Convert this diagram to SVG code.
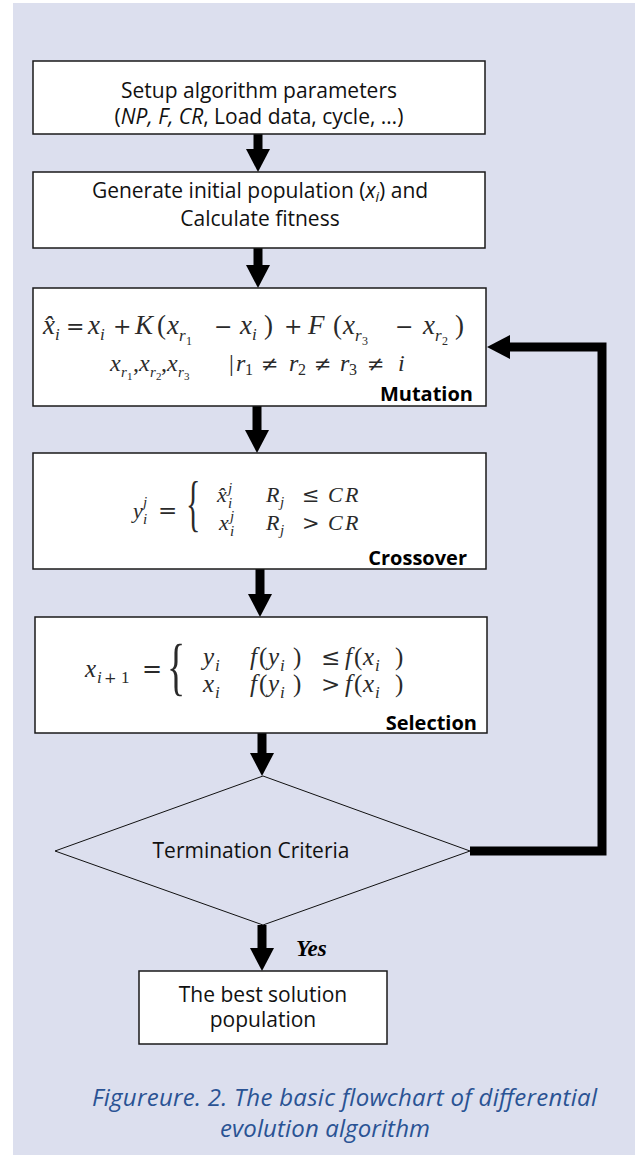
<svg xmlns="http://www.w3.org/2000/svg" width="635" height="1155" viewBox="0 0 635 1155">
<defs>
<style>
.box{fill:#fff;stroke:#1a1a1a;stroke-width:1.5}
.t{font-family:"Open Sans","Noto Sans",sans-serif;font-size:21px;fill:#111;text-anchor:middle}
.lbl{font-family:"Open Sans","Noto Sans",sans-serif;font-weight:bold;font-size:20px;fill:#000;text-anchor:end}
.m{font-family:"Liberation Serif",serif;font-style:italic;fill:#2a2a2a}
.n{font-family:"DejaVu Serif",serif;font-style:normal}
.r{font-style:normal}
.arr{fill:none;stroke:#000;stroke-width:9}
.cap{font-family:"Open Sans","Noto Sans",sans-serif;font-style:italic;font-size:24px;fill:#2A5394}
</style>
<marker id="ah" markerUnits="userSpaceOnUse" markerWidth="24" markerHeight="24" refX="0" refY="12" orient="auto" viewBox="0 0 24 24">
<path d="M0,0 L23,12 L0,24 z" fill="#000"/>
</marker>
</defs>
<rect x="0" y="0" width="635" height="1155" fill="#fff"/>
<rect x="13" y="3" width="622" height="1152" fill="#DCDFEE"/>

<g id="connectors">
<line class="arr" x1="258" y1="134" x2="258" y2="149" marker-end="url(#ah)"/>
<line class="arr" x1="258" y1="248" x2="258" y2="265" marker-end="url(#ah)"/>
<line class="arr" x1="257" y1="406" x2="257" y2="430" marker-end="url(#ah)"/>
<line class="arr" x1="260" y1="569" x2="260" y2="594" marker-end="url(#ah)"/>
<line class="arr" x1="262" y1="733" x2="262" y2="753" marker-end="url(#ah)"/>
<line class="arr" x1="262" y1="925" x2="262" y2="948" marker-end="url(#ah)"/>
<path class="arr" d="M470,851 H602 V347 H510" stroke-width="8" marker-end="url(#ah)"/>
</g>

<g id="setup">
<rect class="box" x="33" y="61" width="452" height="73"/>
<text class="t" x="259" y="98">Setup algorithm parameters</text>
<text class="t" x="259" y="124">(<tspan font-style="italic">NP, F, CR</tspan>, Load data, cycle, …)</text>
</g>

<g id="init">
<rect class="box" x="33" y="172" width="452" height="76"/>
<text class="t" x="260" y="198">Generate initial population (<tspan font-style="italic">x</tspan><tspan font-style="italic" font-size="14" dy="4">i</tspan><tspan dy="-4">) and</tspan></text>
<text class="t" x="260" y="226">Calculate fitness</text>
</g>

<g id="mutation">
<rect class="box" x="33" y="288" width="453" height="118"/>
<text class="m" font-size="27">
<tspan x="43" y="334">x̂</tspan>
<tspan x="55" y="340" font-size="17">i</tspan>
<tspan class="n" x="66" y="334" font-size="22">=</tspan>
<tspan x="88" y="334">x</tspan>
<tspan x="100" y="340" font-size="17">i</tspan>
<tspan class="n" x="113" y="334" font-size="22">+</tspan>
<tspan x="135" y="334">K</tspan>
<tspan class="r" x="157" y="334">(</tspan>
<tspan x="167" y="334">x</tspan>
<tspan x="179" y="341" font-size="17">r</tspan>
<tspan class="r" x="186" y="345" font-size="12">1</tspan>
<tspan class="n" x="214" y="334" font-size="22">−</tspan>
<tspan x="240" y="334">x</tspan>
<tspan x="252" y="340" font-size="17">i</tspan>
<tspan class="r" x="264" y="334">)</tspan>
<tspan class="n" x="284" y="334" font-size="22">+</tspan>
<tspan x="308" y="334">F</tspan>
<tspan class="r" x="333" y="334">(</tspan>
<tspan x="343" y="334">x</tspan>
<tspan x="355" y="341" font-size="17">r</tspan>
<tspan class="r" x="362" y="345" font-size="12">3</tspan>
<tspan class="n" x="395" y="334" font-size="22">−</tspan>
<tspan x="423" y="334">x</tspan>
<tspan x="435" y="341" font-size="17">r</tspan>
<tspan class="r" x="442" y="345" font-size="12">2</tspan>
<tspan class="r" x="455" y="334">)</tspan>
</text>
<text class="m" font-size="24">
<tspan x="110" y="371">x</tspan>
<tspan x="121" y="377" font-size="15">r</tspan>
<tspan class="r" x="127" y="380" font-size="11">1</tspan>
<tspan class="r" x="133" y="371">,</tspan>
<tspan x="139" y="371">x</tspan>
<tspan x="150" y="377" font-size="15">r</tspan>
<tspan class="r" x="156" y="380" font-size="11">2</tspan>
<tspan class="r" x="161" y="371">,</tspan>
<tspan x="167" y="371">x</tspan>
<tspan x="178" y="377" font-size="15">r</tspan>
<tspan class="r" x="184" y="380" font-size="11">3</tspan>
<tspan class="r" x="229" y="371">|</tspan>
<tspan x="236" y="371">r</tspan>
<tspan class="r" x="245" y="375" font-size="16">1</tspan>
<tspan class="n" x="261" y="371" font-size="21">≠</tspan>
<tspan x="289" y="371">r</tspan>
<tspan class="r" x="298" y="375" font-size="16">2</tspan>
<tspan class="n" x="314" y="371" font-size="21">≠</tspan>
<tspan x="340" y="371">r</tspan>
<tspan class="r" x="349" y="375" font-size="16">3</tspan>
<tspan class="n" x="367" y="371" font-size="21">≠</tspan>
<tspan x="398" y="371">i</tspan>
</text>
<text class="lbl" x="473" y="401">Mutation</text>
</g>

<g id="crossover">
<rect class="box" x="33" y="453" width="453" height="116"/>
<text class="m" font-size="22">
<tspan x="133" y="518">y</tspan>
<tspan x="143" y="507" font-size="15">j</tspan>
<tspan x="143" y="524" font-size="15">i</tspan>
<tspan class="n" x="158" y="518" font-size="23">=</tspan>
<tspan x="217" y="502">x̂</tspan>
<tspan x="228" y="493" font-size="15">j</tspan>
<tspan x="228" y="508" font-size="15">i</tspan>
<tspan x="266" y="502">R</tspan>
<tspan x="280" y="507" font-size="15">j</tspan>
<tspan class="n" x="302" y="502" font-size="21">≤</tspan>
<tspan x="328" y="502">C</tspan>
<tspan x="345" y="502">R</tspan>
<tspan x="219" y="530">x</tspan>
<tspan x="230" y="521" font-size="15">j</tspan>
<tspan x="230" y="536" font-size="15">i</tspan>
<tspan x="266" y="530">R</tspan>
<tspan x="280" y="535" font-size="15">j</tspan>
<tspan class="n" x="302" y="530" font-size="21">&gt;</tspan>
<tspan x="328" y="530">C</tspan>
<tspan x="345" y="530">R</tspan>
</text>
<text class="m" transform="translate(186,524) scale(1,2.05)" font-size="30" style="font-style:normal">{</text>
<text class="lbl" x="467" y="565">Crossover</text>
</g>

<g id="selection">
<rect class="box" x="35" y="617" width="452" height="116"/>
<text class="m" font-size="25">
<tspan x="85" y="677">x</tspan>
<tspan x="97" y="683" font-size="17">i</tspan>
<tspan class="n" x="104" y="683" font-size="15">+</tspan>
<tspan class="r" x="121" y="683" font-size="17">1</tspan>
<tspan class="n" x="142" y="677" font-size="24">=</tspan>
<tspan x="203" y="665">y</tspan>
<tspan x="215" y="671" font-size="17">i</tspan>
<tspan x="250" y="665">f</tspan>
<tspan class="r" x="259" y="665">(</tspan>
<tspan x="268" y="665">y</tspan>
<tspan x="280" y="671" font-size="17">i</tspan>
<tspan class="r" x="293" y="665">)</tspan>
<tspan class="n" x="321" y="665" font-size="23">≤</tspan>
<tspan x="345" y="665">f</tspan>
<tspan class="r" x="354" y="665">(</tspan>
<tspan x="363" y="665">x</tspan>
<tspan x="375" y="671" font-size="17">i</tspan>
<tspan class="r" x="395" y="665">)</tspan>
<tspan x="203" y="692">x</tspan>
<tspan x="215" y="698" font-size="17">i</tspan>
<tspan x="250" y="692">f</tspan>
<tspan class="r" x="259" y="692">(</tspan>
<tspan x="268" y="692">y</tspan>
<tspan x="280" y="698" font-size="17">i</tspan>
<tspan class="r" x="293" y="692">)</tspan>
<tspan class="n" x="321" y="692" font-size="23">&gt;</tspan>
<tspan x="345" y="692">f</tspan>
<tspan class="r" x="354" y="692">(</tspan>
<tspan x="363" y="692">x</tspan>
<tspan x="375" y="698" font-size="17">i</tspan>
<tspan class="r" x="395" y="692">)</tspan>
</text>
<text class="m" transform="translate(167,688) scale(1,1.68)" font-size="38" style="font-style:normal">{</text>
<text class="lbl" x="477" y="730">Selection</text>
</g>

<g id="termination">
<polygon points="263,776 470,851 263,925 55,851" fill="none" stroke="#111" stroke-width="1"/>
<text class="t" x="251" y="858">Termination Criteria</text>
</g>

<g id="yes-label">
<text x="296" y="956" font-family="Liberation Serif,serif" font-weight="bold" font-style="italic" font-size="23" fill="#000">Yes</text>
</g>

<g id="best">
<rect class="box" x="139" y="971" width="248" height="73"/>
<text class="t" x="263" y="1002">The best solution</text>
<text class="t" x="263" y="1027">population</text>
</g>

<g id="caption">
<text class="cap" x="92" y="1106" textLength="505">Figureure. 2. The basic flowchart of differential</text>
<text class="cap" x="220" y="1137" textLength="210">evolution algorithm</text>
</g>
</svg>
